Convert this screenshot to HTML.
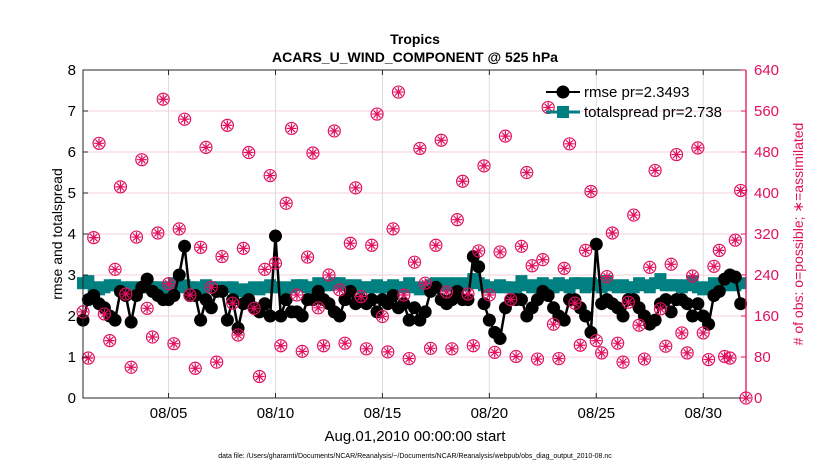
<!DOCTYPE html>
<html><head><meta charset="utf-8"><style>
body{margin:0;background:#fff;}
svg text{font-family:"Liberation Sans",Arial,sans-serif;}
</style></head><body>
<svg id="chart" width="830" height="470" xmlns="http://www.w3.org/2000/svg">
<rect width="830" height="470" fill="#fff"/>
<g id="grid"></g>
<g id="marks"></g>
<g id="axes"></g>
<text x="415" y="44" text-anchor="middle" font-size="14" font-weight="bold">Tropics</text>
<text x="415" y="62" text-anchor="middle" font-size="14" font-weight="bold">ACARS_U_WIND_COMPONENT @ 525 hPa</text>
<text transform="translate(62,234) rotate(-90)" text-anchor="middle" font-size="14">rmse and totalspread</text>
<text transform="translate(803,234) rotate(-90)" text-anchor="middle" font-size="14" fill="#e0115f"># of obs: o=possible; ∗=assimilated</text>
<text x="415" y="441" text-anchor="middle" font-size="15">Aug.01,2010 00:00:00 start</text>
<text x="415" y="458" text-anchor="middle" font-size="7">data file: /Users/gharamti/Documents/NCAR/Reanalysis/~/Documents/NCAR/Reanalysis/webpub/obs_diag_output_2010-08.nc</text>
<g>
  <line x1="546" y1="92" x2="580" y2="92" stroke="#000" stroke-width="2"/>
  <circle cx="563" cy="92" r="6.5" fill="#000"/>
  <text x="584" y="97" font-size="15">rmse pr=2.3493</text>
  <line x1="546" y1="112" x2="580" y2="112" stroke="#008080" stroke-width="3"/>
  <rect x="557" y="106" width="12" height="12" fill="#008080"/>
  <text x="584" y="117" font-size="15">totalspread pr=2.738</text>
</g>
</svg>
<script>
const rmse=[1.9,2.4,2.5,2.3,2.2,2.0,1.9,2.6,2.5,1.85,2.5,2.7,2.9,2.6,2.5,2.4,2.4,2.5,3.0,3.7,2.5,2.5,1.9,2.4,2.2,2.6,2.6,1.9,2.4,1.7,2.3,2.4,2.2,2.1,2.3,2.0,3.95,2.0,2.4,2.1,2.1,2.0,2.4,2.4,2.6,2.4,2.3,2.1,2.0,2.4,2.6,2.3,2.4,2.3,2.4,2.1,2.4,2.3,2.5,2.2,2.3,1.9,2.2,1.9,2.1,2.6,2.7,2.4,2.3,2.4,2.6,2.4,2.4,3.45,3.2,2.3,1.9,1.6,1.45,2.2,2.4,2.4,2.4,2.0,2.2,2.4,2.6,2.5,2.2,2.0,1.9,2.4,2.4,2.2,2.0,1.6,3.75,2.3,2.4,2.3,2.2,2.0,2.4,2.4,2.2,2.0,1.8,1.9,2.3,2.4,2.1,2.4,2.4,2.3,2.0,2.3,2.0,1.8,2.5,2.6,2.9,3.0,2.95,2.3,null];
const spread=[2.8,2.85,2.7,2.65,2.7,2.75,2.75,2.65,2.7,2.7,2.65,2.7,2.75,2.7,2.7,2.65,2.7,2.8,2.7,2.75,2.7,2.7,2.65,2.75,2.7,2.7,2.65,2.7,2.7,2.65,2.6,2.65,2.7,2.65,2.7,2.75,2.7,2.7,2.65,2.7,2.75,2.75,2.7,2.7,2.8,2.75,2.75,2.8,2.8,2.75,2.7,2.75,2.7,2.7,2.7,2.75,2.7,2.7,2.75,2.7,2.7,2.8,2.7,2.65,2.7,2.75,2.8,2.75,2.8,2.75,2.8,2.75,2.8,2.9,2.8,2.75,2.7,2.7,2.75,2.7,2.7,2.65,2.85,2.75,2.7,2.75,2.8,2.75,2.7,2.8,2.75,2.7,2.8,2.8,2.7,2.8,2.75,2.7,2.85,2.75,2.7,2.75,2.7,2.7,2.8,2.75,2.7,2.8,2.9,2.75,2.75,2.75,2.7,2.75,2.85,2.7,2.65,2.7,2.8,2.75,2.75,2.8,2.75,2.8,null];
const obs=[168,78,313,497,164,112,251,412,203,60,314,465,175,119,322,583,223,106,330,544,201,58,294,489,216,70,276,532,185,123,292,479,175,42,251,434,263,102,380,526,201,91,275,478,176,102,240,521,211,107,302,410,198,96,298,554,159,90,330,597,201,77,265,487,224,97,298,503,207,96,348,423,203,102,287,453,201,89,285,511,192,81,296,440,258,76,270,567,144,77,253,496,185,103,288,403,112,88,237,322,107,70,187,357,142,76,255,444,174,101,261,475,127,88,238,488,127,75,257,288,81,78,308,405,0];
const xTickDays=[4,9,14,19,24,29];
const xTickLabels=["08/05","08/10","08/15","08/20","08/25","08/30"];
const yTicks=[0,1,2,3,4,5,6,7,8];
const y2Ticks=[0,80,160,240,320,400,480,560,640];

const L=83,R=746,T=70,B=398,NS="http://www.w3.org/2000/svg";
const xDay=d=>L+(R-L)*d/31;
const xIdx=i=>xDay(i*0.25);
const yL=v=>B-(B-T)*v/8;
const yR=v=>B-(B-T)*v/640;
function mk(tag,attrs,parent){const e=document.createElementNS(NS,tag);for(const k in attrs)e.setAttribute(k,attrs[k]);parent.appendChild(e);return e;}
const grid=document.getElementById('grid'),marks=document.getElementById('marks'),axes=document.getElementById('axes');
yTicks.forEach(v=>{if(v>0&&v<8){const l=mk('line',{x1:L,x2:R,y1:yL(v),y2:yL(v),stroke:'#f6d0de','stroke-width':1},grid);

}});
xTickDays.forEach(d=>{const l=mk('line',{x1:xDay(d),x2:xDay(d),y1:T,y2:B,stroke:'#dcdcdc','stroke-width':1},grid);

});
let p='';spread.forEach((v,i)=>{if(v!=null)p+=(p?'L':'M')+xIdx(i).toFixed(1)+','+yL(v).toFixed(1);});
const sl=mk('path',{d:p,fill:'none',stroke:'#008080','stroke-width':3},marks);


spread.forEach((v,i)=>{if(v==null)return;const r=mk('rect',{x:xIdx(i)-6,y:yL(v)-6,width:12,height:12,fill:'#008080'},marks);

});
p='';rmse.forEach((v,i)=>{if(v!=null)p+=(p?'L':'M')+xIdx(i).toFixed(1)+','+yL(v).toFixed(1);});
const rl=mk('path',{d:p,fill:'none',stroke:'#000','stroke-width':2.5},marks);


rmse.forEach((v,i)=>{if(v==null)return;const c=mk('circle',{cx:xIdx(i),cy:yL(v),r:6.5,fill:'#000'},marks);

});
obs.forEach((v,i)=>{const cx=xIdx(i),cy=yR(v);const g=mk('g',{stroke:'#e0115f','stroke-width':1.2,fill:'none'},marks);


mk('circle',{cx:cx,cy:cy,r:6},g);
mk('path',{d:`M${cx-5},${cy}H${cx+5}M${cx},${cy-5}V${cy+5}M${cx-3.5},${cy-3.5}L${cx+3.5},${cy+3.5}M${cx-3.5},${cy+3.5}L${cx+3.5},${cy-3.5}`},g);});
const fr=mk('path',{d:`M${R},${T}H${L}V${B}H${R}`,fill:'none',stroke:'#262626','stroke-width':1},axes);


const ra=mk('line',{x1:R,x2:R,y1:T,y2:B,stroke:'#e0115f','stroke-width':1.3},axes);


yTicks.forEach(v=>{const t=mk('text',{x:L-7,y:yL(v)+5,'text-anchor':'end','font-size':15},axes);t.textContent=v;


mk('line',{x1:L,x2:L+5,y1:yL(v),y2:yL(v),stroke:'#262626'},axes);});
y2Ticks.forEach(v=>{const t=mk('text',{x:R+8,y:yR(v)+5,'font-size':15,fill:'#e0115f'},axes);t.textContent=v;


mk('line',{x1:R-5,x2:R,y1:yR(v),y2:yR(v),stroke:'#e0115f'},axes);});
xTickDays.forEach((d,k)=>{const t=mk('text',{x:xDay(d),y:B+20,'text-anchor':'middle','font-size':15},axes);t.textContent=xTickLabels[k];


mk('line',{x1:xDay(d),x2:xDay(d),y1:B,y2:B-5,stroke:'#262626'},axes);
mk('line',{x1:xDay(d),x2:xDay(d),y1:T,y2:T+5,stroke:'#262626'},axes);});
</script>
</body></html>
